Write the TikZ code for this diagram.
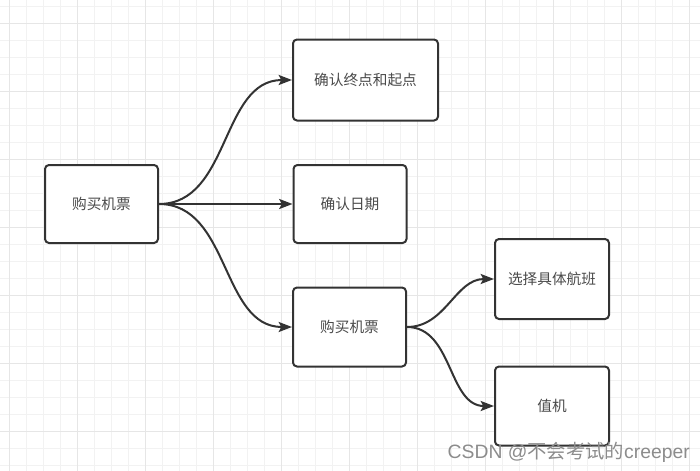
\documentclass[tikz,border=0pt]{standalone}
\usepackage{fontspec}
\setmainfont{Noto Sans CJK SC}
\newfontfamily\latfont{Liberation Sans}
\usetikzlibrary{arrows.meta}
\definecolor{gridminor}{HTML}{F2F2F2}
\definecolor{gridmajor}{HTML}{E6E6E6}
\definecolor{boxline}{HTML}{333333}
\definecolor{txt}{HTML}{4A4A4A}
\definecolor{wm}{HTML}{8C8C8C}
\tikzset{
  box/.style={draw=boxline, line width=1.5pt, rounded corners=3pt, fill=white,
    inner sep=0pt, text=txt, font=\fontsize{11pt}{13pt}\selectfont},
  conn/.style={draw=boxline, line width=1.5pt, -{Stealth[length=10pt,width=7.5pt,inset=2pt]}}
}
\begin{document}
\begin{tikzpicture}[x=0.75pt,y=-0.75pt]
\useasboundingbox (0,0) rectangle (700,471);
\fill[white] (0,0) rectangle (700,471);
% grid
\foreach \i in {0,...,41} {
  \draw[gridminor, line width=0.75pt] ({9.3+17*\i},0) -- ({9.3+17*\i},471);
}
\foreach \j in {0,...,28} {
  \draw[gridminor, line width=0.75pt] (0,{6+17*\j}) -- (700,{6+17*\j});
}
\foreach \i in {0,...,10} {
  \draw[gridmajor, line width=0.75pt] ({9.3+68*\i},0) -- ({9.3+68*\i},471);
}
\foreach \j in {0,...,7} {
  \draw[gridmajor, line width=0.75pt] (0,{23+68*\j}) -- (700,{23+68*\j});
}
% nodes
\node[box, minimum width=84.75pt, minimum height=58.5pt] (A) at (101.5,204) {购买机票};
\node[box, minimum width=108.75pt, minimum height=60.75pt] (B) at (365.5,80) {确认终点和起点};
\node[box, minimum width=84.75pt, minimum height=58.5pt] (C) at (350,204) {确认日期};
\node[box, minimum width=84.75pt, minimum height=59.25pt] (D) at (349.5,327) {购买机票};
\node[box, minimum width=85.5pt, minimum height=60pt] (E) at (552,279) {选择具体航班};
\node[box, minimum width=85.5pt, minimum height=59.25pt] (F) at (552,406) {值机};
% connectors
\draw[conn] (A.east) to[out=0,in=180] (B.west);
\draw[conn] (A.east) -- (C.west);
\draw[conn] (A.east) to[out=0,in=180] (D.west);
\draw[conn] (D.east) to[out=0,in=180] (E.west);
\draw[conn] (D.east) to[out=0,in=180] (F.west);
% watermark
\node[text=wm, font=\fontsize{14.5pt}{16pt}\selectfont, anchor=base east, inner sep=0pt] (W) at (690,458.5) {{\latfont CSDN @}不会考试的{\latfont creeper}};
\end{tikzpicture}
\end{document}
